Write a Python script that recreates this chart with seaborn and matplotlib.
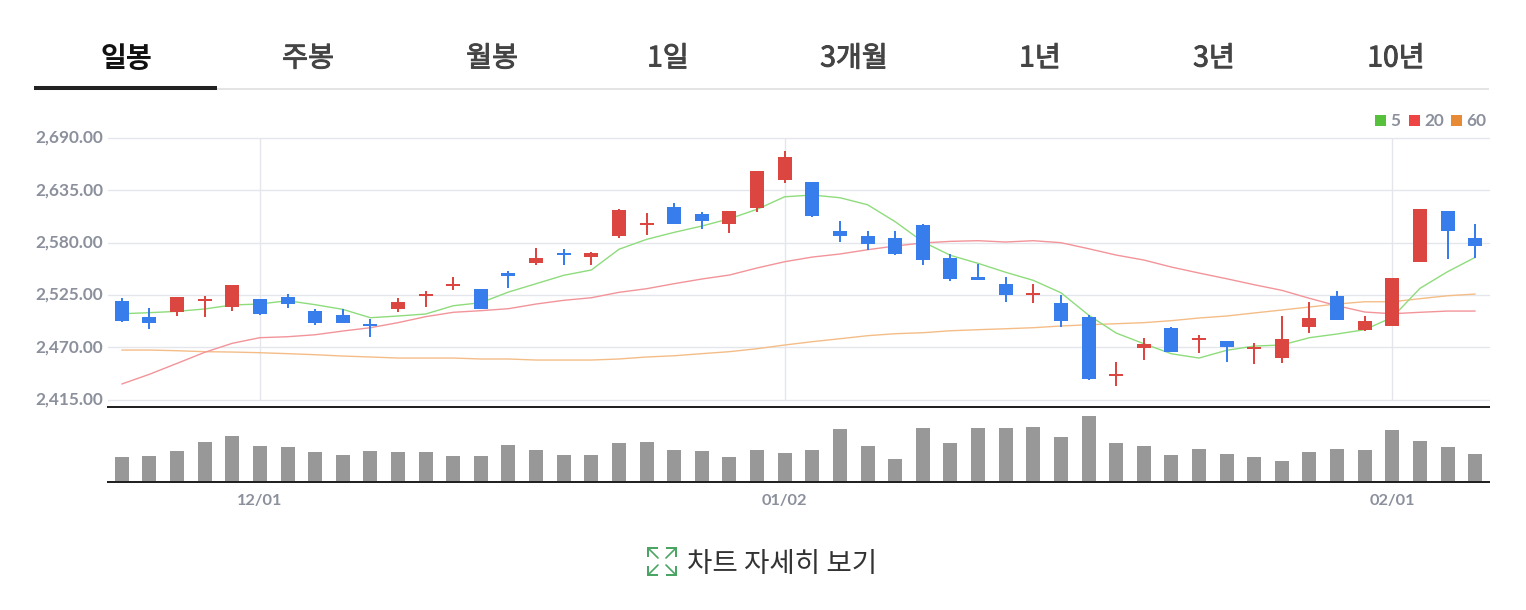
import numpy as np
import pandas as pd
import seaborn as sns
import matplotlib.pyplot as plt
import matplotlib.patheffects as pe
from matplotlib.patches import Rectangle
from matplotlib.transforms import ScaledTranslation

# Tab and label text
tab_labels = ['일봉', '주봉', '월봉', '1일', '3개월', '1년', '3년', '10년']
date_ticks = [5, 24, 46]
date_labels = ['12/01', '01/02', '02/01']
price_ticks = [2415, 2470, 2525, 2580, 2635, 2690]

# Candles, one value per trading day
open_px = [2518.6, 2501.7, 2507.0, 2518.6, 2512.3, 2520.7, 2522.8, 2508.1, 2503.8, 2494.4,
           2510.2, 2523.8, 2534.4, 2531.2, 2548.0, 2558.5, 2569.0, 2564.8, 2586.9, 2598.5,
           2617.4, 2610.0, 2599.5, 2616.4, 2645.8, 2643.7, 2592.2, 2586.9, 2584.8, 2598.5,
           2563.8, 2543.8, 2536.4, 2524.9, 2516.5, 2501.7, 2439.7, 2469.1, 2490.2, 2477.6,
           2476.5, 2468.1, 2458.6, 2491.2, 2523.8, 2488.1, 2492.3, 2559.6, 2613.2, 2584.8]
high_px = [2521.7, 2511.2, 2522.8, 2523.8, 2535.4, 2520.7, 2525.9, 2510.2, 2510.2, 2499.6,
           2521.7, 2529.1, 2543.8, 2531.2, 2550.1, 2574.3, 2573.3, 2570.0, 2615.3, 2611.1,
           2621.6, 2612.2, 2613.2, 2655.3, 2676.3, 2643.7, 2602.7, 2592.2, 2592.2, 2599.5,
           2568.0, 2557.5, 2543.8, 2536.4, 2524.9, 2503.8, 2454.4, 2479.7, 2491.2, 2482.8,
           2476.5, 2474.4, 2502.8, 2517.5, 2529.1, 2502.8, 2542.8, 2615.3, 2613.2, 2599.5]
low_px = [2496.8, 2489.1, 2502.8, 2501.7, 2508.1, 2503.8, 2511.2, 2493.3, 2495.4, 2480.7,
          2507.0, 2512.3, 2530.1, 2510.2, 2532.2, 2556.4, 2556.4, 2556.4, 2584.8, 2588.0,
          2599.5, 2594.3, 2590.1, 2612.2, 2642.7, 2606.9, 2580.6, 2572.2, 2566.9, 2556.4,
          2539.6, 2540.6, 2517.5, 2516.5, 2491.2, 2435.5, 2429.2, 2456.5, 2465.0, 2463.9,
          2454.4, 2452.3, 2453.4, 2484.9, 2498.6, 2487.0, 2492.3, 2559.6, 2562.7, 2563.8]
close_px = [2497.8, 2495.4, 2522.8, 2520.7, 2535.4, 2504.9, 2515.4, 2495.4, 2495.4, 2492.3,
            2517.5, 2525.9, 2536.4, 2510.2, 2544.9, 2563.8, 2566.9, 2569.0, 2614.3, 2600.6,
            2599.5, 2602.7, 2613.2, 2655.3, 2670.0, 2608.0, 2586.9, 2578.5, 2568.0, 2561.7,
            2541.7, 2540.6, 2524.9, 2527.0, 2497.5, 2436.5, 2441.8, 2473.4, 2465.0, 2479.7,
            2470.2, 2470.2, 2478.6, 2500.7, 2498.6, 2497.5, 2542.8, 2615.3, 2592.2, 2576.4]
is_up = [False, False, True, True, True, False, False, False, False, False,
         True, True, True, False, False, True, False, True, True, True,
         False, False, True, True, True, False, False, False, False, False,
         False, False, False, True, False, False, True, True, False, True,
         False, True, True, True, False, True, True, True, False, False]

# Moving averages
ma5 = [2505.2, 2506.3, 2507.7, 2510.2, 2514.4, 2515.4, 2518.9, 2514.7, 2509.8, 2501.0,
       2502.8, 2504.9, 2513.6, 2516.8, 2528.0, 2536.8, 2545.6, 2551.2, 2573.0, 2583.4,
       2590.8, 2597.4, 2605.1, 2615.0, 2628.2, 2630.0, 2627.2, 2619.8, 2602.0, 2580.9,
       2566.6, 2558.2, 2548.8, 2540.3, 2527.3, 2503.8, 2484.9, 2473.7, 2463.1, 2458.6,
       2466.7, 2471.2, 2472.3, 2480.0, 2483.9, 2488.4, 2501.4, 2531.9, 2549.4, 2564.5]
ma20 = [2431.3, 2441.5, 2453.0, 2464.6, 2474.1, 2480.0, 2481.0, 2483.1, 2487.0, 2490.5,
        2495.8, 2502.1, 2506.7, 2508.4, 2510.5, 2515.4, 2519.3, 2522.0, 2527.7, 2531.5,
        2536.8, 2541.7, 2545.9, 2553.3, 2559.9, 2564.8, 2568.0, 2572.5, 2576.4, 2579.6,
        2581.3, 2582.0, 2580.6, 2582.0, 2579.9, 2573.6, 2566.9, 2561.7, 2554.3, 2548.0,
        2542.0, 2535.7, 2529.8, 2521.4, 2513.6, 2507.0, 2505.2, 2506.7, 2508.0, 2508.0]
ma60 = [2467.0, 2467.0, 2466.3, 2465.3, 2464.9, 2464.2, 2463.2, 2462.1, 2460.7, 2459.7,
        2458.6, 2458.6, 2458.6, 2457.6, 2457.6, 2456.5, 2456.5, 2456.5, 2457.6, 2459.7,
        2461.0, 2463.2, 2465.3, 2468.4, 2472.3, 2475.8, 2478.9, 2482.1, 2484.2, 2485.2,
        2487.3, 2488.4, 2489.4, 2490.5, 2492.3, 2493.6, 2494.7, 2495.8, 2497.9, 2500.7,
        2502.8, 2506.0, 2509.1, 2512.3, 2515.4, 2517.8, 2517.8, 2521.0, 2524.1, 2525.9]

# Volume, no scale shown in the chart so the units are arbitrary
volume = [74, 77, 92, 119, 137, 107, 104, 89, 80, 92,
          89, 89, 77, 77, 110, 95, 80, 80, 116, 119,
          95, 92, 74, 95, 86, 95, 158, 107, 68, 161,
          116, 161, 161, 164, 134, 197, 116, 107, 80, 98,
          83, 74, 62, 89, 98, 95, 155, 122, 104, 83]

WIDTH, HEIGHT = 1526, 610
RED = '#db4740'
BLUE = '#387dec'
GRID = '#e4e6eb'
LABEL = '#8b909c'
DARK = '#222222'

sns.set_theme(style='white')
plt.rcParams['font.family'] = ['Noto Sans CJK KR', 'DejaVu Sans']

days = np.arange(len(open_px))
df = pd.DataFrame({'day': days, 'open': open_px, 'high': high_px, 'low': low_px,
                   'close': close_px, 'up': is_up, 'ma5': ma5, 'ma20': ma20,
                   'ma60': ma60, 'volume': volume})
df['color'] = np.where(df['up'], RED, BLUE)


def box(left, top, right, bottom):
    return [left / WIDTH, 1 - bottom / HEIGHT, (right - left) / WIDTH, (bottom - top) / HEIGHT]


fig = plt.figure(figsize=(WIDTH / 100, HEIGHT / 100), dpi=100, facecolor='white')

# Overlay in pixel units for the tabs, legend and the button under the chart
ax_ui = fig.add_axes([0, 0, 1, 1])
ax_ui.set_xlim(0, WIDTH)
ax_ui.set_ylim(HEIGHT, 0)
ax_ui.axis('off')

ax_price = fig.add_axes(box(108, 138, 1489, 399.5))
ax_vol = fig.add_axes(box(108, 407, 1489, 481.7))

# Price panel
for col, color in [('ma60', '#f4bd88'), ('ma20', '#f29499'), ('ma5', '#8edc7c')]:
    sns.lineplot(data=df, x='day', y=col, color=color, linewidth=1.0, ax=ax_price, zorder=2)

ax_price.vlines(df['day'], df['low'], df['high'], colors=df['color'], linewidth=1.44, zorder=3)
ax_price.bar(df['day'], (df['close'] - df['open']).abs(), bottom=df[['open', 'close']].min(axis=1),
             width=0.507, color=df['color'], linewidth=0, zorder=4)

ax_price.set_xlim(-0.5, 49.5)
ax_price.set_ylim(price_ticks[0], price_ticks[-1])
ax_price.set_yticks(price_ticks)
ax_price.set_yticklabels([f'{v:,.2f}' for v in price_ticks], family='Lato', fontweight='bold',
                         fontsize=12.4, color=LABEL)
ax_price.set_xticks(date_ticks)
ax_price.set_xticklabels([])
ax_price.tick_params(length=0, pad=3.5)
ax_price.set_xlabel('')
ax_price.set_ylabel('')
ax_price.grid(True, color=GRID, linewidth=1.0)
ax_price.set_axisbelow(True)
for line in ax_price.get_ygridlines():
    line.set_clip_on(False)
# labels sit a little above their gridlines in the reference
lift = ScaledTranslation(0, 1.5 / 100, fig.dpi_scale_trans)
for label in ax_price.get_yticklabels():
    label.set_transform(label.get_transform() + lift)
sns.despine(ax=ax_price, left=True, bottom=True)

# Volume panel
sns.barplot(data=df, x='day', y='volume', native_scale=True, width=0.507, color='#989898',
            saturation=1, linewidth=0, ax=ax_vol)
ax_vol.set_xlim(-0.5, 49.5)
ax_vol.set_ylim(0, 224)
ax_vol.set_yticks([])
ax_vol.set_xticks(date_ticks)
ax_vol.set_xticklabels(date_labels, family='Lato', fontweight='bold', fontsize=11.8, color=LABEL)
ax_vol.tick_params(axis='x', length=4.5, width=1.44, color=DARK, pad=4)
ax_vol.set_xlabel('')
ax_vol.set_ylabel('')
ax_vol.patch.set_alpha(0)
sns.despine(ax=ax_vol, left=True, top=False, right=True)
for side in ['top', 'bottom']:
    ax_vol.spines[side].set_color(DARK)
    ax_vol.spines[side].set_linewidth(1.44)

# Tabs, the font has no medium weight here so a thin stroke thickens the regular one
tab_x = [126, 308, 492, 668, 854, 1040, 1214, 1396]
for i, (label, x) in enumerate(zip(tab_labels, tab_x)):
    color = '#111111' if i == 0 else '#444444'
    tab = ax_ui.text(x, 58.5, label, ha='center', va='center', fontsize=20.3,
                     fontweight='bold' if i == 0 else 'normal', color=color)
    if i > 0:
        tab.set_path_effects([pe.withStroke(linewidth=0.7, foreground=color)])
ax_ui.plot([217, 1489], [89, 89], color='#e4e4e4', linewidth=1.44, solid_capstyle='butt')
ax_ui.plot([34, 217], [88, 88], color=DARK, linewidth=2.9, solid_capstyle='butt')

# Legend
legend_items = [('5', '#57c13e', 1375), ('20', '#ef4444', 1409), ('60', '#e68a35', 1451)]
for label, color, x in legend_items:
    ax_ui.add_patch(Rectangle((x, 115), 11, 11, facecolor=color, linewidth=0))
    ax_ui.text(x + 15, 120.5, label, ha='left', va='center', family='Lato', fontweight='bold',
               fontsize=12.4, color=LABEL)

# Button under the chart, expand icon then the label
ICON = '#4aa564'
corners = [(648, 548, 1, 1), (676, 548, -1, 1), (648, 575, 1, -1), (676, 575, -1, -1)]
for cx, cy, sx, sy in corners:
    ax_ui.plot([cx + 10 * sx, cx, cx], [cy, cy, cy + 9 * sy], color=ICON, linewidth=1.44,
               solid_joinstyle='miter', solid_capstyle='butt')
    ax_ui.plot([cx + 1 * sx, cx + 10 * sx], [cy + 1 * sy, cy + 10 * sy], color=ICON, linewidth=1.2)
ax_ui.text(687, 563.5, '차트 자세히 보기', ha='left', va='center', fontsize=19.9, color='#333333')

fig.savefig('out.png', dpi=100, facecolor='white')
